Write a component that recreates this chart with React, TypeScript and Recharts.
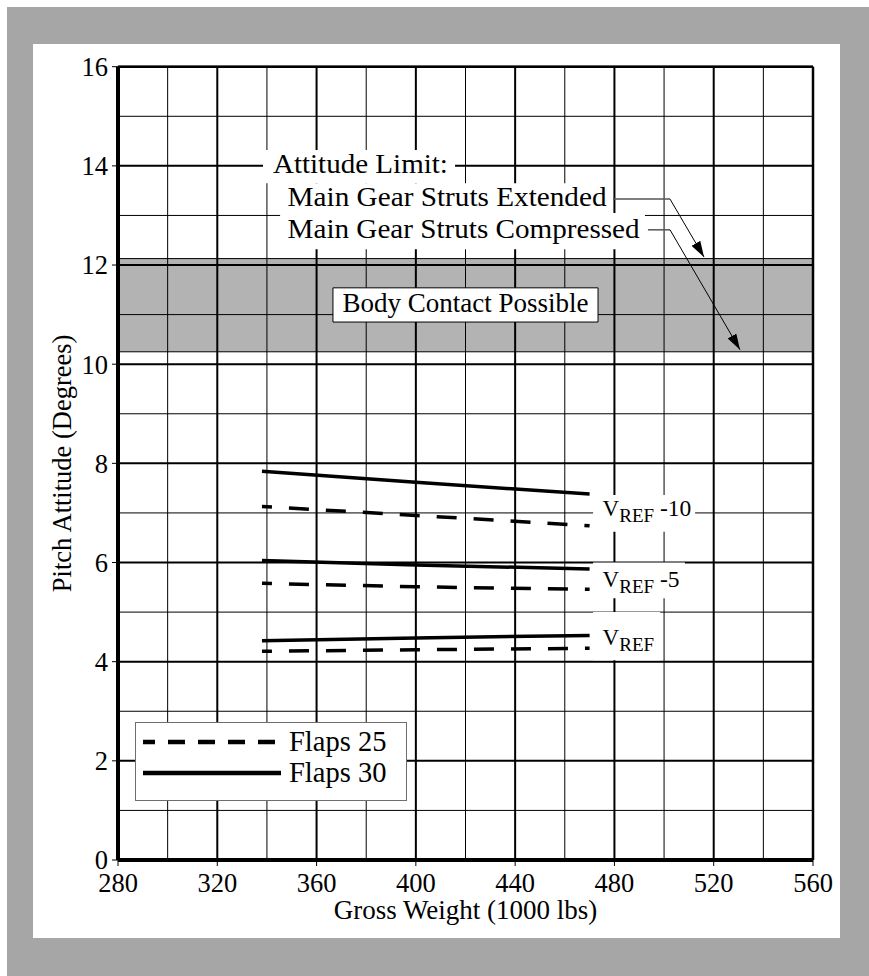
import React from "react";
import {
  LineChart,
  Line,
  XAxis,
  YAxis,
  ReferenceLine,
  ReferenceArea,
  Legend,
} from "recharts";

// gross weight (1000 lbs) where each curve is read
const weights = [338, 400, 470];

// pitch attitude (degrees)
const flaps30VrefMinus10 = [7.84, 7.62, 7.38];
const flaps25VrefMinus10 = [7.13, 6.95, 6.74];
const flaps30VrefMinus5 = [6.04, 5.95, 5.87];
const flaps25VrefMinus5 = [5.58, 5.51, 5.46];
const flaps30Vref = [4.42, 4.48, 4.53];
const flaps25Vref = [4.21, 4.24, 4.27];

const xTicks = [280, 320, 360, 400, 440, 480, 520, 560];
const yTicks = [0, 2, 4, 6, 8, 10, 12, 14, 16];
const xGrid = [280, 300, 320, 340, 360, 380, 400, 420, 440, 460, 480, 500, 520, 540, 560];
const yGrid = [0, 1, 2, 3, 4, 5, 6, 7, 8, 9, 10, 11, 12, 13, 14, 15, 16];

// body contact band (degrees)
const bandLow = 10.25;
const bandHigh = 12.13;

const FONT = '"Liberation Serif", "Times New Roman", serif';
const TXT = 27;

const toPoints = (ys: number[]) => weights.map((x, i) => ({ x, y: ys[i] }));

const series = [
  { key: "f30m10", data: toPoints(flaps30VrefMinus10), dashed: false },
  { key: "f25m10", data: toPoints(flaps25VrefMinus10), dashed: true },
  { key: "f30m5", data: toPoints(flaps30VrefMinus5), dashed: false },
  { key: "f25m5", data: toPoints(flaps25VrefMinus5), dashed: true },
  { key: "f30", data: toPoints(flaps30Vref), dashed: false },
  { key: "f25", data: toPoints(flaps25Vref), dashed: true },
];

// text placed inside a white patch; len stretches it to the original's width
const textAt = (dx: number, dy: number, s: string, len?: number) => (props: any) => {
  const vb = props.viewBox || {};
  return (
    <text
      x={vb.x + dx}
      y={vb.y + dy}
      fontFamily={FONT}
      fontSize={TXT}
      fill="#000"
      textLength={len}
      lengthAdjust={len ? "spacingAndGlyphs" : undefined}
    >
      {s}
    </text>
  );
};

const vrefAt = (dy: number, suffix: string) => (props: any) => {
  const vb = props.viewBox || {};
  return (
    <text x={vb.x + 9.5} y={vb.y + dy} fontFamily={FONT} fontSize={23} fill="#000">
      V
      <tspan fontSize={19} dy={6}>
        REF
      </tspan>
      {suffix ? (
        <tspan fontSize={23.5} dy={-6}>
          {" " + suffix}
        </tspan>
      ) : null}
    </text>
  );
};

const bodyLabel = (props: any) => {
  const vb = props.viewBox || {};
  return (
    <text
      x={vb.x + vb.width / 2}
      y={vb.y + 24}
      textAnchor="middle"
      fontFamily={FONT}
      fontSize={TXT}
      fill="#000"
    >
      Body Contact Possible
    </text>
  );
};

const LegendBox = () => (
  <div
    style={{
      width: 272,
      height: 79,
      boxSizing: "border-box",
      border: "1px solid #6e6e6e",
      background: "#fff",
    }}
  >
    <svg width={270} height={77} style={{ display: "block" }}>
      <line x1={7} x2={145} y1={19} y2={19} stroke="#000" strokeWidth={4.5} strokeDasharray="17 13" strokeDashoffset={5} />
      <line x1={7} x2={145} y1={50} y2={50} stroke="#000" strokeWidth={4.5} />
      <text x={153} y={28} fontFamily={FONT} fontSize={28.5} fill="#000">Flaps 25</text>
      <text x={153} y={59} fontFamily={FONT} fontSize={28.5} fill="#000">Flaps 30</text>
    </svg>
  </div>
);

export default function App() {
  return (
    <div style={{ position: "absolute", left: 0, top: 0, width: 869, height: 976, background: "#fff" }}>
      <div style={{ position: "absolute", left: 7, top: 7, width: 862, height: 969, background: "#a6a6a6" }} />
      <div style={{ position: "absolute", left: 33, top: 44, width: 807, height: 894, background: "#fff" }} />
      <div style={{ position: "absolute", left: 0, top: 0 }}>
        <LineChart width={869} height={976} margin={{ top: 66.7, right: 56, bottom: 56, left: 58 }}>
          <defs>
            <marker id="arrowHead" viewBox="0 0 16 10" markerWidth={16} markerHeight={10} refX={16} refY={5} orient="auto" markerUnits="userSpaceOnUse">
              <path d="M0,0 L16,5 L0,10 z" fill="#000" />
            </marker>
          </defs>
          <XAxis
            type="number"
            dataKey="x"
            domain={[280, 560]}
            ticks={xTicks}
            interval={0}
            allowDataOverflow
            height={60}
            tickSize={6}
            tickMargin={7}
            tickLine={{ stroke: "#000", strokeWidth: 1 }}
            axisLine={{ stroke: "#000", strokeWidth: 4 }}
            tick={{ fill: "#000", fontSize: 26.5, fontFamily: FONT }}
            label={(p: any) => {
              const vb = p.viewBox || {};
              return (
                <text x={vb.x + vb.width / 2} y={vb.y + 59} textAnchor="middle" fontFamily={FONT} fontSize={27} fill="#000">
                  Gross Weight (1000 lbs)
                </text>
              );
            }}
          />
          <YAxis
            type="number"
            domain={[0, 16]}
            ticks={yTicks}
            interval={0}
            allowDataOverflow
            width={60}
            tickSize={6}
            tickMargin={4}
            tickLine={{ stroke: "#000", strokeWidth: 1 }}
            axisLine={{ stroke: "#000", strokeWidth: 4 }}
            tick={{ fill: "#000", fontSize: 26.5, fontFamily: FONT }}
            label={(p: any) => {
              const vb = p.viewBox || {};
              const cx = 71;
              const cy = vb.y + vb.height / 2;
              return (
                <text x={cx} y={cy} transform={`rotate(-90 ${cx} ${cy})`} textAnchor="middle" fontFamily={FONT} fontSize={26.5} fill="#000">
                  Pitch Attitude (Degrees)
                </text>
              );
            }}
          />

          <ReferenceArea y1={bandLow} y2={bandHigh} fill="#b3b3b3" fillOpacity={1} stroke="#000" strokeWidth={1} zIndex={50} />

          {xGrid.map((v) => (
            <ReferenceLine key={"gx" + v} x={v} stroke="#000" strokeWidth={v % 40 === 0 ? 2 : 1} zIndex={60} />
          ))}
          {yGrid.map((v) => (
            <ReferenceLine key={"gy" + v} y={v} stroke="#000" strokeWidth={v % 2 === 0 ? 2 : 1} zIndex={60} />
          ))}
          <ReferenceLine y={16} stroke="#000" strokeWidth={2.5} zIndex={61} />
          <ReferenceLine x={560} stroke="#000" strokeWidth={2.5} zIndex={61} />

          {/* white patches behind the annotations */}
          <ReferenceArea x1={338.4} x2={415.8} y1={13.65} y2={14.32} fill="#fff" fillOpacity={1} stroke="none" zIndex={70} label={textAt(10, 23, "Attitude Limit:", 175)} />
          <ReferenceArea x1={345.3} x2={478.2} y1={13.05} y2={13.65} fill="#fff" fillOpacity={1} stroke="none" zIndex={70} label={textAt(7.5, 22.7, "Main Gear Struts Extended", 319)} />
          <ReferenceArea x1={345.3} x2={492.3} y1={12.32} y2={13.05} fill="#fff" fillOpacity={1} stroke="none" zIndex={70} label={textAt(7.5, 25.3, "Main Gear Struts Compressed", 352)} />
          <ReferenceArea x1={366.6} x2={473.4} y1={10.85} y2={11.54} fill="#fff" fillOpacity={1} stroke="#000" strokeWidth={1} zIndex={70} label={bodyLabel} />
          <ReferenceArea x1={471.4} x2={512.5} y1={6.62} y2={7.36} fill="#fff" fillOpacity={1} stroke="none" zIndex={70} label={vrefAt(21, "-10")} />
          <ReferenceArea x1={471.4} x2={508.4} y1={5.28} y2={6.0} fill="#fff" fillOpacity={1} stroke="none" zIndex={70} label={vrefAt(24, "-5")} />
          <ReferenceArea x1={471.4} x2={498.4} y1={4.03} y2={5.0} fill="#fff" fillOpacity={1} stroke="none" zIndex={70} label={vrefAt(33, "")} />

          {/* leader arrows */}
          <ReferenceLine segment={[{ x: 479.4, y: 13.33 }, { x: 502.4, y: 13.33 }]} stroke="#555" strokeWidth={1.5} zIndex={80} />
          <ReferenceLine segment={[{ x: 502.4, y: 13.33 }, { x: 516.1, y: 12.16 }]} stroke="#000" strokeWidth={1} markerEnd="url(#arrowHead)" zIndex={80} />
          <ReferenceLine segment={[{ x: 493.5, y: 12.71 }, { x: 502.4, y: 12.71 }]} stroke="#555" strokeWidth={1.5} zIndex={80} />
          <ReferenceLine segment={[{ x: 502.4, y: 12.71 }, { x: 530.6, y: 10.29 }]} stroke="#000" strokeWidth={1} markerEnd="url(#arrowHead)" zIndex={80} />

          {series.map((s) => (
            <Line
              key={s.key}
              data={s.data}
              dataKey="y"
              type="linear"
              stroke="#000"
              strokeWidth={3.5}
              strokeDasharray={s.dashed ? "20 17" : undefined}
              strokeDashoffset={s.dashed ? 10 : undefined}
              dot={false}
              activeDot={false}
              isAnimationActive={false}
            />
          ))}

          <Legend
            layout="vertical"
            align="center"
            verticalAlign="middle"
            content={() => <LegendBox />}
            wrapperStyle={{ left: 135, top: 722, width: 272, height: 79 }}
          />
        </LineChart>
      </div>
    </div>
  );
}
